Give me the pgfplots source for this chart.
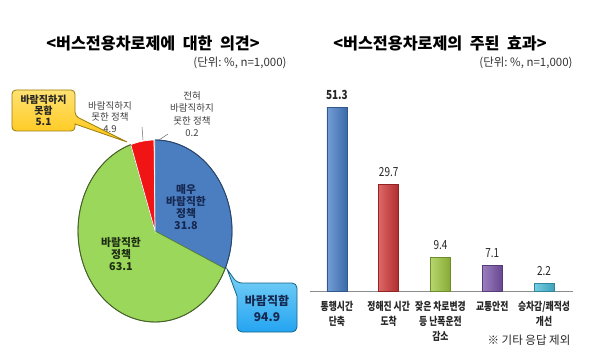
\documentclass[border=0pt]{standalone}
\usepackage{fontspec}
\setmainfont{Noto Sans CJK KR}
\newfontfamily\cond{Noto Sans CJK KR}[FakeStretch=0.8]
\usepackage{pgfplots}
\pgfplotsset{compat=1.18}
\definecolor{pieblue}{RGB}{74,126,193}
\definecolor{piegreen}{RGB}{155,215,90}
\definecolor{piered}{RGB}{240,20,20}
\definecolor{piegray}{RGB}{190,190,200}
\definecolor{bblue}{RGB}{70,125,200}
\definecolor{bred}{RGB}{208,52,52}
\definecolor{bgreen}{RGB}{158,200,62}
\definecolor{bpurple}{RGB}{122,84,170}
\definecolor{baqua}{RGB}{72,190,220}
\definecolor{callyellow}{RGB}{255,206,20}
\definecolor{callblue}{RGB}{40,182,240}
\definecolor{navytxt}{RGB}{22,40,80}
\definecolor{greentxt}{RGB}{30,45,20}
\begin{document}
\begin{tikzpicture}[x=1pt,y=1pt]
\useasboundingbox (0,0) rectangle (600,362);
% pie values (percent)
\pgfmathsetmacro\aA{90}
\pgfmathsetmacro\aB{\aA-31.8*3.6}
\pgfmathsetmacro\aC{\aB-63.1*3.6}
\pgfmathsetmacro\aD{\aC-4.9*3.6}
\pgfmathsetmacro\aE{\aD-0.2*3.6}
% titles
\node[font=\bfseries\fontsize{16.2}{18}\selectfont] at (153,319) {<버스전용차로제에~~대한~~의견>};
\node[font=\fontsize{11.5}{13}\selectfont, text=black!80] at (240,299) {(단위:~\%, n=1,000)};
\node[font=\bfseries\fontsize{16.2}{18}\selectfont] at (440,319) {<버스전용차로제의~~주된~~효과>};
\node[font=\fontsize{11.5}{13}\selectfont, text=black!80] at (526,299) {(단위:~\%, n=1,000)};
% pie
\begin{axis}[at={(155pt,131pt)}, anchor=center, width=154pt, height=182pt,
  scale only axis, xmin=-1, xmax=1, ymin=-1, ymax=1, hide axis, clip=false]
\fill[pieblue, draw=pieblue!70!black, line width=0.7pt] (axis cs:0,0) -- plot[domain=\aA:\aB, samples=60, variable=\t] ({cos(\t)},{sin(\t)}) -- cycle;
\fill[piegreen, draw=piegreen!60!black, line width=0.7pt] (axis cs:0,0) -- plot[domain=\aB:\aC, samples=90, variable=\t] ({cos(\t)},{sin(\t)}) -- cycle;
\fill[piered, draw=white, line width=0.7pt] (axis cs:0,0) -- plot[domain=\aC:\aD, samples=10, variable=\t] ({cos(\t)},{sin(\t)}) -- cycle;
\fill[piegray, draw=white, line width=0.3pt] (axis cs:0,0) -- plot[domain=\aD:\aE, samples=4, variable=\t] ({cos(\t)},{sin(\t)}) -- cycle;
\draw[piegreen!45!black, line width=0.9pt] plot[domain=\aB:\aC, samples=90, variable=\t] ({cos(\t)},{sin(\t)});
\draw[pieblue!55!black, line width=0.9pt] plot[domain=\aA:\aB, samples=60, variable=\t] ({cos(\t)},{sin(\t)});
\end{axis}
% pie labels
\node[font=\bfseries\fontsize{10.8}{12.3}\selectfont, text=navytxt, align=center] at (186,155) {매우\\바람직한\\정책\\31.8};
\node[font=\bfseries\fontsize{10.8}{12.3}\selectfont, text=greentxt, align=center] at (121,108) {바람직한\\정책\\63.1};
\node[font=\fontsize{9.5}{11.8}\selectfont, text=black!75, align=center] at (110,245) {바람직하지\\못한 정책\\4.9};
\node[font=\fontsize{9.5}{12.3}\selectfont, text=black!75, align=center] at (192,248) {전혀\\바람직하지\\못한 정책\\0.2};
\draw[black!60, line width=0.5pt] (142,235) -- (143,222);
\draw[black!60, line width=0.5pt] (159,222) -- (168,228);
% callouts
\draw[draw=callyellow!60!black, top color=callyellow!60!white, bottom color=callyellow!90!orange, line width=0.8pt, rounded corners=4pt]
  (12,272) -- (75,272) -- (75,246) [sharp corners] -- (127,220) -- (75,238) [rounded corners=4pt] -- (75,231) -- (12,231) -- cycle;
\node[font=\bfseries\fontsize{10}{11}\selectfont, text=black!85, align=center] at (43.5,251.5) {바람직하지\\못함\\5.1};
\draw[draw=callblue!55!black, top color=callblue!60!white, bottom color=callblue!90!blue, line width=0.8pt, rounded corners=5pt]
  (237,79) [sharp corners] -- (227,93) -- (237,66) [rounded corners=5pt] -- (237,30) -- (297,30) -- (297,79) -- cycle;
\node[font=\bfseries\fontsize{12}{16}\selectfont, text=navytxt, align=center] at (267,54) {바람직함\\94.9};
% bar chart
\begin{axis}[at={(310pt,71pt)}, anchor=south west, width=263pt, height=215.2pt,
  scale only axis, xmin=-0.52, xmax=4.56, ymin=0, ymax=60,
  axis y line=none, axis x line=bottom, axis line style={black!45, -},
  xtick={0,1,2,3,4}, major tick length=0pt,
  xticklabels={통행시간\\단축, 정해진 시간\\도착, 잦은 차로변경\\등 난폭운전\\감소, 교통안전, 승차감/쾌적성\\개선},
  xticklabel style={align=center, font=\cond\bfseries\fontsize{11}{15}\selectfont, text=black!85, anchor=north, yshift=-7pt},
  ybar, bar width=20pt, bar shift=0pt, clip=false,
  nodes near coords, nodes near coords style={font=\cond\fontsize{12.5}{14}\selectfont, text=black!85, yshift=4pt},
  point meta=explicit symbolic]
\addplot[left color=bblue!75!white, right color=bblue!85!black, draw=bblue!70!black, nodes near coords style={font=\cond\bfseries\fontsize{12.5}{14}\selectfont}] coordinates {(0,51.3) [51.3]};
\addplot[left color=bred!75!white, right color=bred!85!black, draw=bred!70!black] coordinates {(1,29.7) [29.7]};
\addplot[left color=bgreen!75!white, right color=bgreen!85!black, draw=bgreen!70!black] coordinates {(2,9.4) [9.4]};
\addplot[left color=bpurple!75!white, right color=bpurple!85!black, draw=bpurple!70!black] coordinates {(3,7.1) [7.1]};
\addplot[left color=baqua!75!white, right color=baqua!85!black, draw=baqua!70!black] coordinates {(4,2.2) [2.2]};
\end{axis}
\node[font=\fontsize{11.5}{13}\selectfont, text=black!85] at (529,22) {※ 기타 응답 제외};
\end{tikzpicture}
\end{document}
